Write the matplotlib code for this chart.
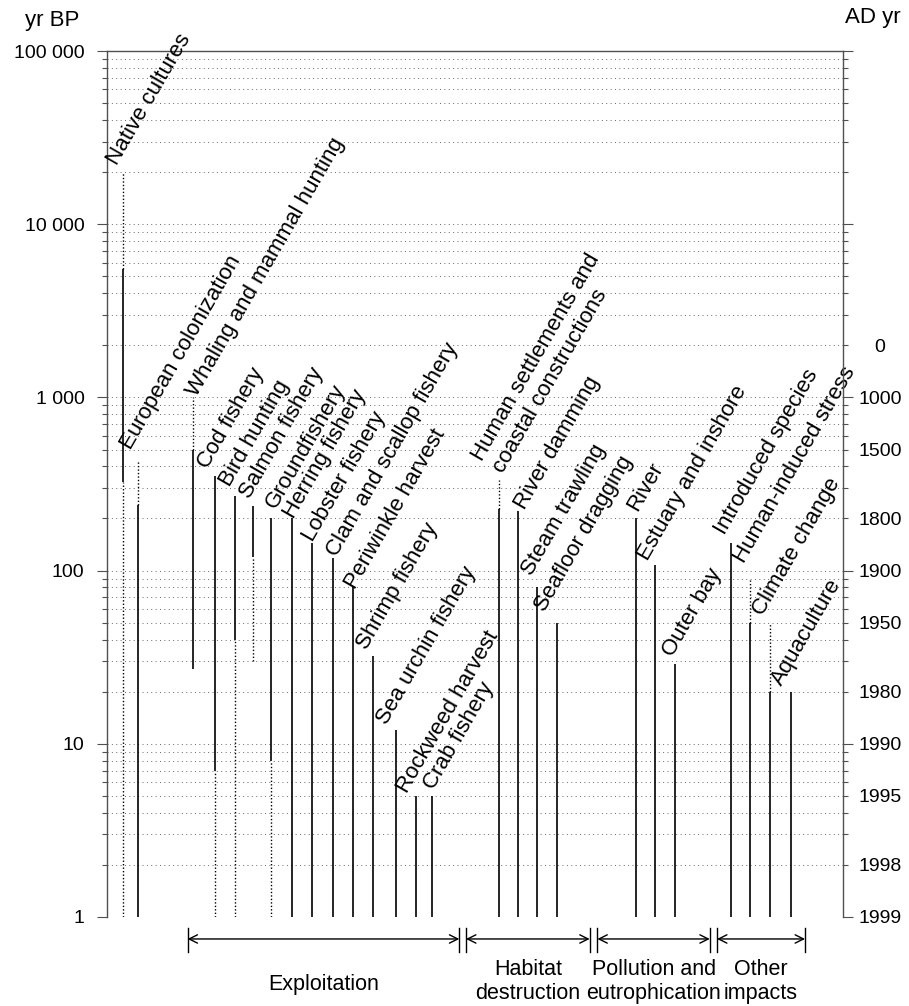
import matplotlib.pyplot as plt
import matplotlib.transforms as mtransforms
from matplotlib.ticker import FixedLocator, LogLocator, FuncFormatter

plt.rcParams['font.family'] = ['Liberation Sans', 'DejaVu Sans']

# impacts, in order along the axis
impacts = ["Native cultures", "European colonization", "Whaling and mammal hunting",
           "Cod fishery", "Bird hunting", "Salmon fishery", "Groundfishery",
           "Herring fishery", "Lobster fishery", "Clam and scallop fishery",
           "Periwinkle harvest", "Shrimp fishery", "Sea urchin fishery",
           "Rockweed harvest", "Crab fishery",
           "Human settlements and\ncoastal constructions", "River damming",
           "Steam trawling", "Seafloor dragging",
           "River", "Estuary and inshore", "Outer bay",
           "Introduced species", "Human-induced stress", "Climate change", "Aquaculture"]

# documented period, yr BP (solid)
solid_from = [5500, 240, 500, 350, 270, 235, 200, 200, 145, 118, 80, 32, 12, 5, 5,
              227, 220, 80, 50, 200, 108, 29, 145, 50, 20, 20]
solid_to = [325, 1, 27, 7, 40, 120, 8, 1, 1, 1, 1, 1, 1, 1, 1,
            1, 1, 1, 1, 1, 1, 1, 1, 1, 1, 1]
# uncertain periods, yr BP (dotted)
uncertain = [[(20000, 5500), (325, 1)], [(430, 240)], [(1000, 500)], [(7, 1)],
             [(40, 1)], [(120, 30)], [(8, 1)], [], [], [], [], [], [], [], [],
             [(335, 227)], [], [], [], [], [], [], [], [(88, 50)], [(50, 20)], []]

# horizontal placement of each impact line
xpos = [2.21, 4.28, 11.68, 14.67, 17.43, 19.9, 22.32, 25.1, 27.85, 30.71, 33.42,
        36.14, 39.2, 41.93, 44.1, 53.26, 55.79, 58.42, 61.14, 71.88, 74.46, 77.17,
        84.85, 87.3, 90.08, 92.87]
# start of each label's baseline relative to the top of its line (px right, px up)
label_nudge = [(-6, 6), (-8, 10), (4, 0), (-7, 7), (-6, 8), (-4, 7), (4, 9), (2, -1),
               (1, 0), (4, 1), (2, -3), (-6, 6), (-9, 5), (-9, 2), (2, 5), (4, 5),
               (7, 1), (-5, 11), (-12, 10), (1, 6), (-7, 3), (-2, 6), (-7, 7), (-6, 16),
               (-7, 6), (-9, 5)]

groups = ["Exploitation", "Habitat\ndestruction", "Pollution and\neutrophication", "Other\nimpacts"]
group_spans = [(10.95, 47.87), (48.78, 65.58), (66.63, 81.9), (82.88, 94.84)]

bp_ticks = [1, 10, 100, 1000, 10000, 100000]
bp_labels = ["1", "10", "100", "1 000", "10 000", "100 000"]
ad_years = [1999, 1998, 1995, 1990, 1980, 1950, 1900, 1800, 1500, 1000, 0]

axis_grey = "#505050"
PX = 72 / 100.0  # points per pixel at 100 dpi
label_size = 16

fig = plt.figure(figsize=(9.09, 10.06), dpi=100)
ax = fig.add_axes([0.1177, 0.0885, 0.8097, 0.8608])
ax.set_yscale("log")
ax.set_ylim(1, 100000)
ax.set_xlim(0, 100)

# horizontal grid on every decade and sub-decade
ax.yaxis.set_major_locator(FixedLocator(bp_ticks))
ax.yaxis.set_major_formatter(FuncFormatter(
    lambda v, p: bp_labels[bp_ticks.index(int(round(v)))] if int(round(v)) in bp_ticks else ""))
ax.yaxis.set_minor_locator(LogLocator(base=10, subs=(2., 3., 4., 5., 6., 7., 8., 9.), numticks=20))
ax.yaxis.set_minor_formatter(FuncFormatter(lambda v, p: ""))
ax.grid(True, axis="y", which="both", color="#686868", linewidth=0.7, linestyle=(0, (1, 3.5)))
ax.set_axisbelow(True)
ax.set_xticks([])
ax.tick_params(axis="y", which="major", length=7.2, width=0.8, color=axis_grey, pad=9, labelsize=14)
ax.tick_params(axis="y", which="minor", length=3.6, width=0.8, color=axis_grey)
for side in ["bottom", "right"]:
    ax.spines[side].set_visible(False)
for side in ["left", "top"]:
    ax.spines[side].set_color(axis_grey)
    ax.spines[side].set_linewidth(1.0)

# right axis in calendar years
ad_map = {2000 - y: str(y) for y in ad_years}

def ad_fmt(v, p):
    k = int(round(v))
    return ad_map.get(k, "") if abs(v - k) < 1e-6 * max(v, 1) else ""

ax2 = ax.twinx()
ax2.set_yscale("log")
ax2.set_ylim(1, 100000)
ax2.yaxis.set_major_locator(LogLocator(base=10, numticks=20))
ax2.yaxis.set_minor_locator(LogLocator(base=10, subs=(2., 3., 4., 5., 6., 7., 8., 9.), numticks=20))
ax2.yaxis.set_major_formatter(FuncFormatter(ad_fmt))
ax2.yaxis.set_minor_formatter(FuncFormatter(ad_fmt))
ax2.tick_params(axis="y", which="major", length=7.2, width=0.8, color=axis_grey, pad=19.4, labelsize=14)
ax2.tick_params(axis="y", which="minor", length=3.6, width=0.8, color=axis_grey, pad=23, labelsize=14)
for side in ["bottom", "left", "top"]:
    ax2.spines[side].set_visible(False)
ax2.spines["right"].set_color(axis_grey)
ax2.spines["right"].set_linewidth(1.0)

# impact lines and labels
for x, name, s0, s1, dots, (nx, ny) in zip(xpos, impacts, solid_from, solid_to,
                                           uncertain, label_nudge):
    ax.plot([x, x], [s1, s0], color="black", linewidth=1.2, solid_capstyle="butt", zorder=3)
    for d0, d1 in dots:
        ax.plot([x, x], [d1, d0], color="black", linewidth=1.0, linestyle=(0, (1, 1.5)), zorder=3)
    top = max([s0] + [d0 for d0, d1 in dots])
    if "\n" in name:
        # anchor the bottom line; shift out the descent
        va = "bottom"
        nx, ny = nx + 4, ny - 2.3
    else:
        va = "baseline"
    ax.annotate(name, xy=(x, top), xytext=(nx * PX, ny * PX), textcoords="offset points",
                rotation=60, rotation_mode="anchor", ha="left", va=va,
                fontsize=label_size, annotation_clip=False, zorder=4)

# group brackets below the axis
trans = mtransforms.blended_transform_factory(ax.transData, ax.transAxes)
yb = -0.0254
for (x0, x1), g in zip(group_spans, groups):
    ax.annotate("", xy=(x1, yb), xytext=(x0, yb), xycoords=trans, textcoords=trans,
                arrowprops=dict(arrowstyle="<->,head_length=0.6,head_width=0.3",
                                color="black", linewidth=1.0, shrinkA=0, shrinkB=0))
    for xe in (x0, x1):
        ax.plot([xe, xe], [-0.0127, -0.0404], color="black", linewidth=1.0,
                transform=trans, clip_on=False)
    ax.text((x0 + x1) / 2, -0.0775 if "\n" not in g else -0.0745, g, transform=trans,
            ha="center", va="center", fontsize=15.5, linespacing=1.15)

fig.text(0.057, 0.980, "yr BP", ha="center", va="center", fontsize=16)
fig.text(0.960, 0.983, "AD yr", ha="center", va="center", fontsize=16)

fig.canvas.draw()
for lab in ax2.yaxis.get_majorticklabels() + ax2.yaxis.get_minorticklabels():
    lab.set_horizontalalignment("center")

fig.savefig("out.png", dpi=100)
